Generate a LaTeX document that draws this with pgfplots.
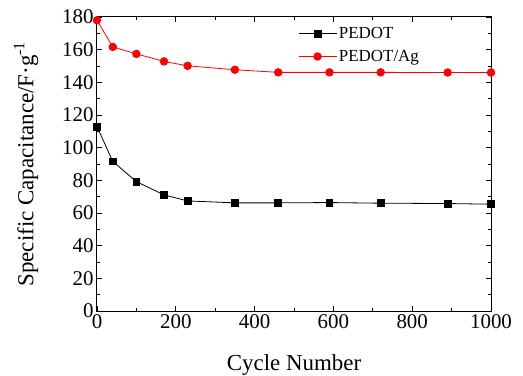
\documentclass[border=0pt]{standalone}
\usepackage{pgfplots}
\pgfplotsset{compat=1.18}
\usepackage{fontspec}
\setmainfont{Liberation Serif}
\newfontfamily\tnr{Liberation Serif}
\newcommand\tl[1]{\mbox{\tnr #1}}
\begin{document}
\begin{tikzpicture}
\begin{axis}[
  scale only axis,
  width=394bp, height=294bp,
  xmin=0, xmax=1000, ymin=0, ymax=180,
  xtick={0,200,400,600,800,1000}, ytick={0,20,40,60,80,100,120,140,160,180},
  xticklabels={\tl{0},\tl{200},\tl{400},\tl{600},\tl{800},\tl{1000}},
  yticklabels={\tl{0},\tl{20},\tl{40},\tl{60},\tl{80},\tl{100},\tl{120},\tl{140},\tl{160},\tl{180}},
  minor tick num=1,
  tick align=inside,
  major tick length=5bp, minor tick length=3bp,
  axis line style={line width=1bp},
  every tick/.style={black, line width=0.8bp},
  tick label style={font=\fontsize{21}{23}\selectfont},
  label style={font=\fontsize{23}{25}\selectfont},
  xlabel={Cycle Number},
  ylabel={Specific Capacitance/F·g\textsuperscript{-1}},
  xlabel style={at={(axis description cs:0.5,0)}, anchor=center, yshift=-54.5bp},
  ylabel style={at={(axis description cs:-0.18,0.5)}, anchor=center},
  clip=false,
  legend style={draw=none, fill=none, at={(axis description cs:0.51,0.972)}, anchor=north west,
    font=\fontsize{17}{19}\selectfont, row sep=6bp, inner sep=0pt,
    nodes={inner sep=2bp}},
  legend cell align=left,
  legend image code/.code={\draw[mark repeat=2,mark phase=2,#1] plot coordinates {(0bp,0bp)(19bp,0bp)(38bp,0bp)};},
]
\addplot[black, line width=0.8bp, mark=square*, mark size=3.4bp, mark options={solid}]
coordinates {(0,112.9)(40,91.6)(100,79.2)(170,71.1)(230,67.4)(350,66.2)(460,66.2)(590,66.4)(720,66.0)(890,65.8)(1000,65.4)};
\addlegendentry{PEDOT}
\addplot[red, line width=0.8bp, mark=*, mark size=3.8bp, mark options={solid}]
coordinates {(0,178)(40,161.7)(100,157.4)(170,152.8)(230,150.1)(350,147.7)(460,146.1)(590,146.1)(720,146.1)(890,146)(1000,146)};
\addlegendentry{PEDOT/Ag}
\end{axis}
\pgfresetboundingbox
\path[use as bounding box] (current axis.south west) ++(-97bp,-65bp) rectangle ++(523bp,376bp);
\end{tikzpicture}
\end{document}
